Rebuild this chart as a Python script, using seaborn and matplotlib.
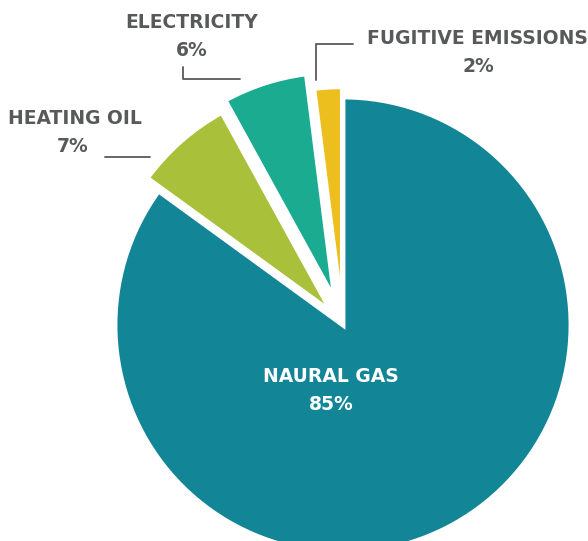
import matplotlib
matplotlib.use('Agg')
import matplotlib.pyplot as plt
import seaborn as sns

sns.set_style('white')
plt.rcParams['font.family'] = ['DejaVu Sans']

# data
labels = ['NAURAL GAS', 'HEATING OIL', 'ELECTRICITY', 'FUGITIVE EMISSIONS']
shares = [85, 7, 6, 2]
colors = ['#128596', '#A9C03A', '#1AAB90', '#ECBE1E']
explode_frac = [0, 0.075, 0.115, 0.045]

W, H = 588, 541
fig = plt.figure(figsize=(W / 100, H / 100), dpi=100)
ax = fig.add_axes([0, 0, 1, 1])

cx, cy, r = 343, 325, 228
# pie explode is in data units, so scale by the radius
explode = [e * r for e in explode_frac]
# y axis is inverted below, so start at -90 (screen top) and go clockwise on screen
wedges, _ = ax.pie(shares, colors=colors, startangle=-90, counterclock=True,
                   explode=explode, center=(cx, cy), radius=r,
                   wedgeprops=dict(edgecolor='white', linewidth=3.5))
ax.set_xlim(0, W)
ax.set_ylim(H, 0)
ax.set_aspect('equal')
ax.axis('off')

grey = '#58595B'
fs = 13.5
ax.text(331, 377, labels[0], color='white', fontsize=fs, fontweight='bold', ha='center', va='center')
ax.text(331, 405, f'{shares[0]}%', color='white', fontsize=fs, fontweight='bold', ha='center', va='center')

ax.text(75, 118, labels[1], color=grey, fontsize=fs, fontweight='bold', ha='center', va='center')
ax.text(73, 146, f'{shares[1]}%', color=grey, fontsize=fs, fontweight='bold', ha='center', va='center')
ax.plot([105, 150], [157, 157], color=grey, lw=1.3)

ax.text(192, 22, labels[2], color=grey, fontsize=fs, fontweight='bold', ha='center', va='center')
ax.text(192, 50, f'{shares[2]}%', color=grey, fontsize=fs, fontweight='bold', ha='center', va='center')
ax.plot([183, 183, 240], [67, 79, 79], color=grey, lw=1.3)

ax.text(477, 38, labels[3], color=grey, fontsize=fs, fontweight='bold', ha='center', va='center')
ax.text(478, 66, f'{shares[3]}%', color=grey, fontsize=fs, fontweight='bold', ha='center', va='center')
ax.plot([316, 316, 353], [80, 44, 44], color=grey, lw=1.3)

fig.savefig('out.png', dpi=100, facecolor='white')
